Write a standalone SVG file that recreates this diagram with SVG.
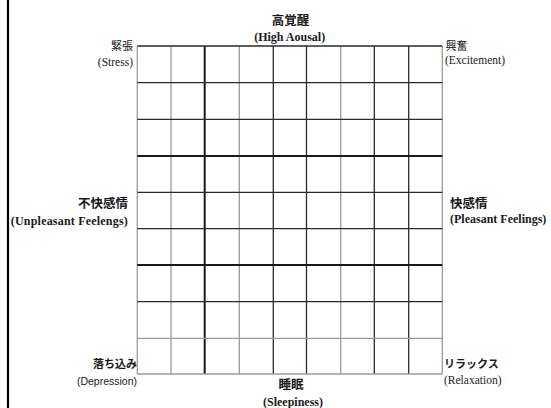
<svg xmlns="http://www.w3.org/2000/svg" width="551" height="408" viewBox="0 0 551 408">
<style>
.g{stroke:#9a9a9a;stroke-width:1.3;fill:none}
.d{stroke:#2a2a2a;stroke-width:1.3;fill:none}
.t{stroke:#1a1a1a;stroke-width:2;fill:none}
.jp{font-family:"Noto Sans CJK JP","Noto Sans",sans-serif;fill:#1a1a1a}
.sr{font-family:"Liberation Serif",serif;fill:#1a1a1a}
.ss{font-family:"Liberation Sans",sans-serif;fill:#1a1a1a}
.b{font-weight:bold}
</style>
<rect width="551" height="408" fill="#fff"/>
<line x1="8" y1="0" x2="8" y2="408" stroke="#000" stroke-width="2.2"/>
<g id="grid">
<line class="g" x1="137.3" y1="46" x2="137.3" y2="374"/>
<line class="g" x1="171" y1="46" x2="171" y2="374"/>
<line class="t" x1="204.7" y1="46" x2="204.7" y2="374"/>
<line class="g" x1="239.3" y1="46" x2="239.3" y2="374"/>
<line class="d" x1="273.3" y1="46" x2="273.3" y2="374"/>
<line class="d" x1="306.5" y1="46" x2="306.5" y2="374"/>
<line class="g" x1="340.7" y1="46" x2="340.7" y2="374"/>
<line class="d" x1="374.3" y1="46" x2="374.3" y2="374"/>
<line class="d" x1="408.7" y1="46" x2="408.7" y2="374"/>
<line class="g" x1="442.3" y1="46" x2="442.3" y2="374"/>
<line class="d" x1="137.3" y1="46" x2="442.3" y2="46"/>
<line class="d" x1="137.3" y1="82.7" x2="442.3" y2="82.7"/>
<line class="d" x1="137.3" y1="119.3" x2="442.3" y2="119.3"/>
<line class="t" x1="137.3" y1="156" x2="442.3" y2="156"/>
<line class="d" x1="137.3" y1="192.3" x2="442.3" y2="192.3"/>
<line class="d" x1="137.3" y1="228.7" x2="442.3" y2="228.7"/>
<line class="t" x1="137.3" y1="265" x2="442.3" y2="265"/>
<line class="d" x1="137.3" y1="301.7" x2="442.3" y2="301.7"/>
<line class="g" x1="137.3" y1="338.3" x2="442.3" y2="338.3"/>
<line class="g" x1="137.3" y1="374" x2="442.3" y2="374"/>
</g>
<g id="high">
<text class="jp b" x="290.5" y="24.5" font-size="12.5" text-anchor="middle">高覚醒</text>
<text class="sr b" x="289.7" y="41" font-size="12" text-anchor="middle">(High Aousal)</text>
</g>
<g id="stress">
<text class="jp" x="133" y="50" font-size="11" text-anchor="end">緊張</text>
<text class="sr" x="133" y="65.5" font-size="11.5" text-anchor="end">(Stress)</text>
</g>
<g id="excitement">
<text class="jp" x="445.5" y="50" font-size="11">興奮</text>
<text class="sr" x="445" y="64" font-size="11.5">(Excitement)</text>
</g>
<g id="unpleasant">
<text class="jp b" x="128" y="207.5" font-size="12.5" text-anchor="end">不快感情</text>
<text class="sr b" x="128" y="225" font-size="12" text-anchor="end" letter-spacing="0.2">(Unpleasant Feelengs)</text>
</g>
<g id="pleasant">
<text class="jp b" x="450" y="207.5" font-size="12.5">快感情</text>
<text class="sr b" x="450" y="222.5" font-size="12">(Pleasant Feelings)</text>
</g>
<g id="depression">
<text class="jp b" x="137" y="368" font-size="11" text-anchor="end">落ち込み</text>
<text class="ss" x="137" y="384.5" font-size="10.5" text-anchor="end">(Depression)</text>
</g>
<g id="relaxation">
<text class="jp b" x="444" y="368" font-size="11">リラックス</text>
<text class="sr" x="444" y="384" font-size="11.5">(Relaxation)</text>
</g>
<g id="sleepiness">
<text class="jp b" x="291" y="388.5" font-size="12.5" text-anchor="middle">睡眠</text>
<text class="sr b" x="293" y="405.5" font-size="12" text-anchor="middle">(Sleepiness)</text>
</g>
</svg>
